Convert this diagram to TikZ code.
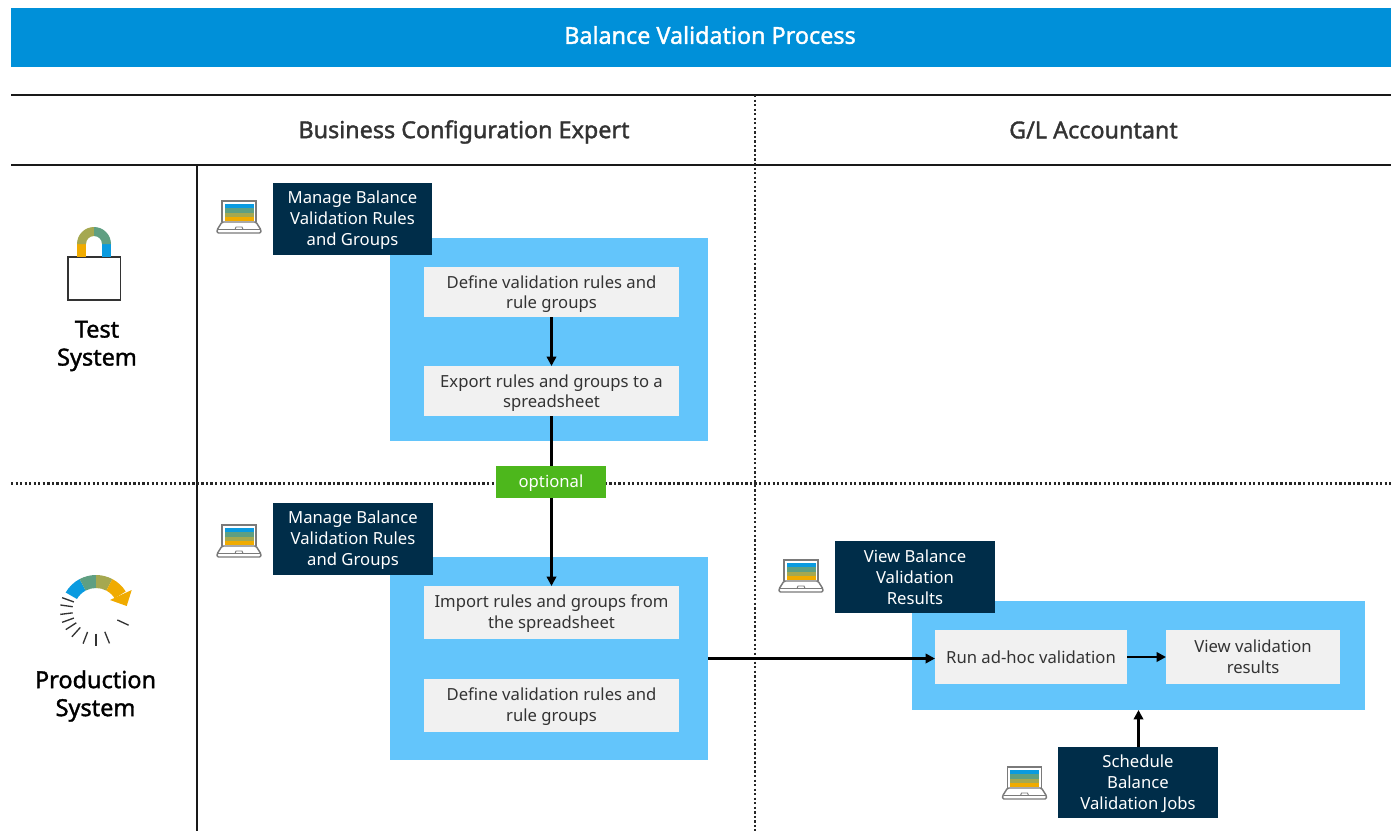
\documentclass[tikz,border=0pt]{standalone}
\usepackage{fontspec}
\setmainfont{Noto Sans}
\newfontfamily\heavyfont[FakeBold=1.5]{Noto Sans}
\usetikzlibrary{arrows.meta}
\definecolor{hdr}{HTML}{0090D9}
\definecolor{navy}{HTML}{002D49}
\definecolor{sky}{HTML}{63C5FB}
\definecolor{pale}{HTML}{F1F1F1}
\definecolor{grn}{HTML}{4DB71C}
\definecolor{ink}{HTML}{333333}
\definecolor{cA}{HTML}{0A9BE0}
\definecolor{cB}{HTML}{5F9F82}
\definecolor{cC}{HTML}{A5A850}
\definecolor{cD}{HTML}{F0AB00}
\definecolor{iconline}{HTML}{7A7A7A}
\newcommand{\boxat}[6]{\node[#1,minimum width=(#5-#3)*0.75pt,minimum height=(#6-#4)*0.75pt,anchor=center] (#2) at ({(#3+#5)/2},{(#4+#6)/2})}
% a tall first line moves the whole text block down inside its box
\newcommand{\dnA}{\rule{0pt}{12.8pt}}
\newcommand{\dnB}{\rule{0pt}{11.2pt}}
\tikzset{
  x=0.75pt,y=-0.75pt,
  base/.style={inner sep=0pt,outer sep=0pt,align=center},
  navybox/.style={base,fill=navy,text=white,font=\fontsize{12.5}{15.6}\selectfont},
  skybox/.style={base,fill=sky},
  palebox/.style={base,fill=pale,text=ink,font=\fontsize{12.5}{15.6}\selectfont},
  tagbox/.style={base,fill=grn,text=white,font=\fontsize{12.5}{15.6}\selectfont},
  titlebox/.style={base,fill=hdr,text=white,font=\heavyfont\fontsize{17.5}{20}\selectfont},
  rolelabel/.style={base,text=ink,font=\heavyfont\fontsize{17.5}{20}\selectfont},
  sidelabel/.style={base,text=black,font=\heavyfont\fontsize{17.6}{21}\selectfont},
  solidrule/.style={line width=1.7pt,black!90},
  dotrule/.style={line width=1.7pt,black!85,dash pattern=on 1.7pt off 1.7pt},
  flow/.style={line width=1.9pt,black,-{Triangle[length=7pt,width=7pt]}},
  flowplain/.style={line width=1.9pt,black},
  laptop/.pic={
    \fill[white] (5,1) rectangle (39,22);
    \fill[cA] (7.5,3.5) rectangle (36.5,8);
    \fill[cB] (7.5,8) rectangle (36.5,12.5);
    \fill[cC] (7.5,12.5) rectangle (36.5,17);
    \fill[cD] (7.5,17) rectangle (36.5,21);
    \draw[iconline,line width=1.1pt] (5,22) -- (5,1) -- (39,1) -- (39,22);
    \draw[iconline,line width=1.1pt,rounded corners=1pt,fill=white] (5,22) -- (39,22) -- (44,30) -- (44,33) -- (0,33) -- (0,30) -- cycle;
    \draw[iconline,line width=0.7pt] (18,29.5) -- (19,27) -- (25,27) -- (26,29.5);
    \draw[iconline,line width=0.7pt] (1,29.5) -- (43,29.5);
  }
}
\begin{document}
\begin{tikzpicture}
\useasboundingbox (0,0) rectangle (1391,831);
\fill[white] (0,0) rectangle (1391,831);

% frame rules
\coordinate (topL) at (11,95); \coordinate (topR) at (1391,95);
\coordinate (midL) at (11,165); \coordinate (midR) at (1391,165);
\coordinate (sideT) at (197,165); \coordinate (sideB) at (197,831);
\coordinate (vdT) at (755,95); \coordinate (vdB) at (755,831);
\coordinate (hdL) at (11,483.5); \coordinate (hdR) at (1391,483.5);
\draw[solidrule] (topL) -- (topR);
\draw[solidrule] (midL) -- (midR);
\draw[solidrule] (sideT) -- (sideB);
\draw[dotrule] (vdT) -- (vdB);
\draw[dotrule] (hdL) -- (hdR);

% header
\boxat{titlebox}{title}{11}{8}{1391}{67} {\hspace*{13.5pt}\rule[-3.8pt]{0pt}{0pt}Balance Validation Process};
\node[rolelabel] (roleA) at (464,132) {Business Configuration Expert};
\node[rolelabel] (roleB) at (1093.5,130) {G/L Accountant};
\node[sidelabel] (sideA) at (97,346) {Test\\System};
\node[sidelabel] (sideB2) at (95.5,696) {Production\\System};

% blue panels
\boxat{skybox}{panelA}{390}{238}{708}{441} {};
\boxat{skybox}{panelB}{390}{557}{708}{760} {};
\boxat{skybox}{panelC}{912}{601}{1365}{710} {};

% navy boxes
\boxat{navybox}{appA}{273}{183}{432}{255} {\dnB Manage Balance\\Validation Rules\\and Groups};
\boxat{navybox}{appB}{273}{503}{433}{575} {\dnB Manage Balance\\Validation Rules\\and Groups};
\boxat{navybox}{appC}{835}{541}{995}{613} {View Balance\\Validation\\Results};
\boxat{navybox}{appD}{1058}{747}{1218}{818} {\dnB Schedule\\Balance\\Validation Jobs};

% steps
\boxat{palebox}{s1}{424}{267}{679}{317} {\dnA Define validation rules and\\rule groups};
\boxat{palebox}{s2}{424}{366}{679}{416} {\dnA Export rules and groups to a\\spreadsheet};
\boxat{palebox}{s3}{424}{586}{679}{639} {\dnB Import rules and groups from\\the spreadsheet};
\boxat{palebox}{s4}{424}{679}{679}{732} {\dnB Define validation rules and\\rule groups};
\boxat{palebox}{s5}{935}{630}{1127}{684} {Run ad-hoc validation};
\boxat{palebox}{s6}{1166}{630}{1340}{684} {View validation\\results};
\boxat{tagbox}{opt}{496}{466}{606}{498} {\dnB optional};

% connectors
\draw[flow] (s1) -- (s2);
\draw[flowplain] (s2) -- (s2 |- opt.north);
\draw[flow] (s2 |- opt.south) -- (s3);
\draw[flow] (panelB.east) -- (s5.west |- panelB.east);
\draw[flow] (s5) -- (s6);
\draw[flow] (appD.north -| panelC.south) -- (panelC.south);

% laptops
\pic at (217,200) {laptop};
\pic at (217,524) {laptop};
\pic at (779,559) {laptop};
\pic at (1002.5,766) {laptop};

% lock icon
\draw[ink,line width=0.9pt,fill=white] (68,257) rectangle (120.5,300);
\fill[cD] (77,256.5) -- (77,244) -- (86,244) -- (86,256.5) -- cycle;
\fill[cA] (102,256.5) -- (102,244) -- (111,244) -- (111,256.5) -- cycle;
\fill[cC] (77,244) arc[start angle=180,end angle=270,radius=17] -- (94,236) arc[start angle=270,end angle=180,radius=8] -- cycle;
\fill[cB] (94,227) arc[start angle=270,end angle=360,radius=17] -- (102,244) arc[start angle=360,end angle=270,radius=8] -- cycle;

% production icon
\begin{scope}[shift={(96,610)}]
  \foreach \a/\b/\c in {150/118/cA,118/90/cB,90/62/cC,62/32/cD}{
    \fill[\c] ({35*cos(\a)},{-35*sin(\a)}) arc[start angle=-\a,end angle=-\b,radius=35]
      -- ({22*cos(\b)},{-22*sin(\b)}) arc[start angle=-\b,end angle=-\a,radius=22] -- cycle;
  }
  \fill[cD] (35.7,-20) -- (14,-10) -- (30.7,-4) -- cycle;
  \foreach \a in {160,172,187,200,213,228,249,270,292,335}{
    \draw[ink,line width=1pt] ({23.5*cos(\a)},{-23.5*sin(\a)}) -- ({36*cos(\a)},{-36*sin(\a)});
  }
\end{scope}
\end{tikzpicture}
\end{document}
